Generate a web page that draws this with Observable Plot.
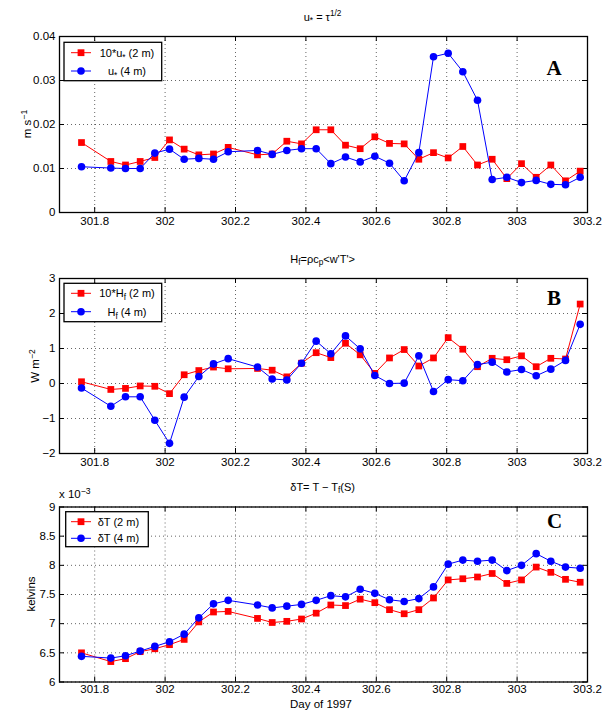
<!DOCTYPE html>
<html><head><meta charset="utf-8">
<script src="https://cdn.jsdelivr.net/npm/d3@7"></script>
<script src="https://cdn.jsdelivr.net/npm/@observablehq/plot@0.6"></script>
<style>
body{margin:0;background:#fff;font-family:"Liberation Sans",Arial,sans-serif;}
#wrap{position:relative;width:608px;height:714px;overflow:hidden;background:#fff}
.panel{position:absolute;left:0}
.lbl{position:absolute;color:#000;white-space:nowrap;line-height:1;font-family:"Liberation Sans",Arial,sans-serif}
.lbl sub{font-size:0.75em;vertical-align:-0.35em;line-height:0}
.lbl sup{font-size:0.75em;vertical-align:0.5em;line-height:0}
</style></head><body><div id="wrap"></div>
<script>
// ---- data ----
const days = [301.7625, 301.8458, 301.8875, 301.9292, 301.9708, 302.0125, 302.0542, 302.0958, 302.1375, 302.1792,
  302.2625, 302.3042, 302.3458, 302.3875, 302.4292, 302.4708, 302.5125, 302.5542, 302.5958, 302.6375,
  302.6792, 302.7208, 302.7625, 302.8042, 302.8458, 302.8875, 302.9292, 302.9708, 303.0125, 303.0542,
  303.0958, 303.1375, 303.1792];
const uStar2m10x = [0.0159,0.0116,0.0108,0.0116,0.0125,0.0165,0.0144,0.0131,0.0133,0.0148,
  0.0131,0.0133,0.0162,0.0156,0.0188,0.0188,0.0153,0.0145,0.0172,0.0157,
  0.0156,0.0121,0.0136,0.0124,0.0150,0.0108,0.0121,0.0077,0.0111,0.0080,
  0.0108,0.0072,0.0094];
const uStar4m = [0.0104,0.0101,0.0100,0.0100,0.0135,0.0144,0.0121,0.0123,0.0121,0.0138,
  0.0141,0.0132,0.0141,0.0145,0.0145,0.0111,0.0126,0.0115,0.0128,0.0112,
  0.0072,0.0136,0.0354,0.0362,0.0320,0.0255,0.0075,0.0080,0.0068,0.0073,
  0.0064,0.0063,0.0080];
const hf2m10x = [0.05,-0.17,-0.14,-0.07,-0.08,-0.29,0.25,0.37,0.47,0.42,
  0.43,0.38,0.19,0.58,0.88,0.74,1.15,0.82,0.29,0.73,
  0.97,0.50,0.73,1.31,0.98,0.48,0.72,0.68,0.79,0.48,
  0.72,0.70,2.27];
const hf4m = [-0.13,-0.65,-0.38,-0.38,-1.05,-1.71,-0.39,0.20,0.56,0.71,
  0.47,0.13,0.10,0.58,1.21,0.85,1.36,0.99,0.23,0.00,
  0.01,0.79,-0.23,0.11,0.08,0.54,0.61,0.33,0.40,0.22,
  0.41,0.66,1.69];
// delta T in units of 1e-3 K
const dT2m = [6.50,6.35,6.40,6.52,6.57,6.64,6.73,7.03,7.20,7.21,
  7.09,7.02,7.04,7.08,7.18,7.32,7.31,7.42,7.36,7.24,
  7.17,7.24,7.44,7.75,7.77,7.80,7.86,7.69,7.75,7.97,
  7.88,7.76,7.71];
const dT4m = [6.44,6.41,6.45,6.53,6.61,6.69,6.82,7.10,7.34,7.40,
  7.32,7.27,7.30,7.33,7.40,7.48,7.46,7.59,7.52,7.41,
  7.38,7.43,7.63,8.02,8.09,8.07,8.09,7.91,8.00,8.20,
  8.07,7.97,7.95];
const xTicks = [301.8, 302, 302.2, 302.4, 302.6, 302.8, 303, 303.2];
const yTicksA = [0, 0.01, 0.02, 0.03, 0.04];
const yTicksB = [-2, -1, 0, 1, 2, 3];
const yTicksC = [6, 6.5, 7, 7.5, 8, 8.5, 9];
const legendA = [[["10*u",""],["*","sub"],[" (2 m)",""]], [["u",""],["*","sub"],[" (4 m)",""]]];
const legendB = [[["10*H",""],["f","sub"],[" (2 m)",""]], [["H",""],["f","sub"],[" (4 m)",""]]];
const legendC = [[["δT (2 m)",""]], [["δT (4 m)",""]]];

const wrap = document.getElementById("wrap");
const W = 608, mL = 59, mR = 21;
const RED = "#ff0000", BLUE = "#0000ff";
const minus = s => String(s).replace("-", "\u2212");

function addLabel(html, x, y, opts = {}) {
  const d = document.createElement("div");
  d.className = "lbl";
  d.innerHTML = html;
  d.style.left = x + "px";
  d.style.top = y + "px";
  d.style.fontSize = (opts.size || 11) + "px";
  d.style.transform = "translate(-50%,-50%)" + (opts.rotate ? " rotate(-90deg)" : "");
  if (opts.anchor === "start") d.style.transform = "translate(0,-50%)";
  wrap.appendChild(d);
}

function rich(sel, parts, fs) {
  parts.forEach(([t, k]) => {
    const ts = sel.append("tspan").text(t);
    if (k === "sub") ts.attr("font-size", fs * 0.75).attr("dy", 3);
    else if (sel.node().childNodes.length > 1) {
      const prev = sel.node().childNodes[sel.node().childNodes.length - 2];
      if (prev.getAttribute("dy") === "3") ts.attr("dy", -3);
    }
  });
}

function panel(cfg) {
  const {top, height, mTop, mBottom, yDomain, yTicks, yFmt, red, blue, letter, letterDx, letterDy, legend} = cfg;
  const fh = height - mTop - mBottom, fw = W - mL - mR;
  const rd = days.map((d, i) => ({day: d, v: red[i]}));
  const bd = days.map((d, i) => ({day: d, v: blue[i]}));
  const svg = Plot.plot({
    width: W, height, marginTop: mTop, marginBottom: mBottom, marginLeft: mL, marginRight: mR,
    style: {fontFamily: "'Liberation Sans', Arial, sans-serif", fontSize: "11.5px", background: "transparent", color: "#000"},
    x: {domain: [301.7, 303.2]},
    y: {domain: yDomain},
    marks: [
      Plot.gridX({ticks: xTicks, stroke: "#000", strokeOpacity: 0.6, strokeDasharray: "1,3"}),
      Plot.gridY({ticks: yTicks, stroke: "#000", strokeOpacity: 0.6, strokeDasharray: "1,3"}),
      Plot.tickX(xTicks, {x: d => d, insetTop: fh - 5, stroke: "#000"}),
      Plot.tickX(xTicks, {x: d => d, insetBottom: fh - 5, stroke: "#000"}),
      Plot.tickY(yTicks, {y: d => d, insetRight: fw - 5, stroke: "#000"}),
      Plot.tickY(yTicks, {y: d => d, insetLeft: fw - 5, stroke: "#000"}),
      Plot.axisX({ticks: xTicks, tickSize: 0, tickPadding: cfg.xPad, tickFormat: d => String(d), label: null}),
      Plot.axisY({ticks: yTicks, tickSize: 0, tickPadding: 4, tickFormat: yFmt, label: null}),
      Plot.line(rd, {x: "day", y: "v", stroke: RED, strokeWidth: 1}),
      Plot.dot(rd, {x: "day", y: "v", symbol: "square", fill: RED, r: 3.8}),
      Plot.line(bd, {x: "day", y: "v", stroke: BLUE, strokeWidth: 1}),
      Plot.dot(bd, {x: "day", y: "v", symbol: "circle", fill: BLUE, r: 3.8}),
      Plot.frame({stroke: "#000", strokeWidth: 1.3}),
      Plot.text([letter], {text: d => d, frameAnchor: "top-right", textAnchor: "middle", lineAnchor: "bottom",
        dx: letterDx, dy: letterDy, fontFamily: "'Liberation Serif', 'Times New Roman', serif", fontWeight: "bold", fontSize: 21})
    ]
  });
  // legend
  const L = legend;
  const g = d3.select(svg).append("g");
  g.append("rect").attr("x", L.x).attr("y", L.y).attr("width", L.w).attr("height", L.h)
    .attr("fill", "#fff").attr("stroke", "#000").attr("stroke-width", 1.3);
  L.rows.forEach((parts, i) => {
    const yy = L.rowY[i];
    const col = i === 0 ? RED : BLUE;
    g.append("line").attr("x1", 71).attr("x2", 91).attr("y1", yy).attr("y2", yy).attr("stroke", col).attr("stroke-width", 1);
    if (i === 0) g.append("rect").attr("x", 81 - 3.4).attr("y", yy - 3.4).attr("width", 6.8).attr("height", 6.8).attr("fill", col);
    else g.append("circle").attr("cx", 81).attr("cy", yy).attr("r", 3.8).attr("fill", col);
    const t = g.append("text").attr("x", L.textX).attr("y", yy + 4).attr("font-size", 11)
      .attr("text-anchor", L.anchor).attr("fill", "#000");
    rich(t, parts, 11);
  });
  const holder = document.createElement("div");
  holder.className = "panel";
  holder.style.top = top + "px";
  holder.appendChild(svg);
  wrap.appendChild(holder);
}

panel({top: 0, height: 230, mTop: 36, mBottom: 18, yDomain: [0, 0.04], yTicks: yTicksA, yFmt: d => String(d),
  red: uStar2m10x, blue: uStar4m, letter: "A", letterDx: -33.5, letterDy: 38, xPad: 4,
  legend: {x: 64, y: 42.3, w: 97.7, h: 38.4, rowY: [52.7, 71], textX: 127, anchor: "middle", rows: legendA}});
panel({top: 230, height: 240, mTop: 48, mBottom: 17, yDomain: [-2, 3], yTicks: yTicksB, yFmt: d => minus(d),
  red: hf2m10x, blue: hf4m, letter: "B", letterDx: -33.5, letterDy: 26, xPad: 4,
  legend: {x: 64, y: 53.3, w: 97.7, h: 38.4, rowY: [63.3, 81.7], textX: 127, anchor: "middle", rows: legendB}});
panel({top: 470, height: 244, mTop: 36.5, mBottom: 32.5, yDomain: [6, 9], yTicks: yTicksC, yFmt: d => String(d),
  red: dT2m, blue: dT4m, letter: "C", letterDx: -33, letterDy: 21, xPad: 3,
  legend: {x: 65.7, y: 41.7, w: 82.6, h: 35, rowY: [51.7, 68.3], textX: 97.7, anchor: "start", rows: legendC}});

// titles and axis labels
addLabel("u<sub>*</sub> = τ<sup>1/2</sup>", 322.6, 16.5, {size: 11});
addLabel("H<sub>f</sub>=ρc<sub>p</sub>&lt;w'T'&gt;", 322.6, 259, {size: 11});
addLabel("δT= T − T<sub>f</sub>(S)", 322.6, 487, {size: 11});
addLabel("m s<sup>−1</sup>", 28, 124, {size: 11.5, rotate: true});
addLabel("W m<sup>−2</sup>", 36, 365.5, {size: 11.5, rotate: true});
addLabel("kelvins", 32, 594, {size: 11.5, rotate: true});
addLabel("x 10<sup>−3</sup>", 59, 495, {size: 11.5, anchor: "start"});
addLabel("Day of 1997", 321, 705, {size: 11.5});
</script></body></html>
